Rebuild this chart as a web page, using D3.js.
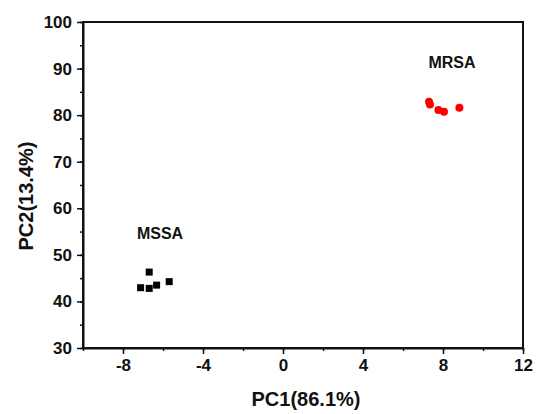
<!DOCTYPE html>
<html>
<head>
<meta charset="utf-8">
<script src="https://cdn.jsdelivr.net/npm/d3@7"></script>
<style>
  body { margin: 0; background: #fff; }
  text { font-family: "Liberation Sans", Arial, sans-serif; font-weight: bold; fill: #111; }
</style>
</head>
<body>
<div id="chart"></div>
<script>
// PCA scores
const mssaX = [-6.69, -7.12, -6.69, -6.32, -5.69];
const mssaY = [46.3, 42.95, 42.8, 43.5, 44.25];
const mrsaX = [7.3, 7.35, 7.77, 8.05, 8.82];
const mrsaY = [82.9, 82.3, 81.1, 80.75, 81.6];
const xTicks = [-8, -4, 0, 4, 8, 12];
const yTicks = [30, 40, 50, 60, 70, 80, 90, 100];
const groupLabels = ["MSSA", "MRSA"];

const width = 537, height = 414;
const margin = { top: 22, right: 14, bottom: 66, left: 83 };

const svg = d3.select("#chart").append("svg")
  .attr("width", width)
  .attr("height", height);

const x = d3.scaleLinear().domain([-10, 12]).range([margin.left, width - margin.right]);
const y = d3.scaleLinear().domain([30, 100]).range([height - margin.bottom, margin.top]);
const fmt = d => String(d); // plain hyphen minus like the original

// minor ticks first
svg.append("g")
  .attr("transform", `translate(0,${y(30)})`)
  .call(d3.axisBottom(x).tickValues(d3.range(-10, 12.1, 2)).tickSize(3).tickFormat(""))
  .call(g => g.select(".domain").remove());
svg.append("g")
  .attr("transform", `translate(${x(-10)},0)`)
  .call(d3.axisLeft(y).tickValues(d3.range(30, 100.1, 5)).tickSize(3).tickFormat(""))
  .call(g => g.select(".domain").remove());

const xAxis = svg.append("g")
  .attr("transform", `translate(0,${y(30)})`)
  .call(d3.axisBottom(x).tickValues(xTicks).tickFormat(fmt).tickSize(6).tickPadding(5).tickSizeOuter(0));
const yAxis = svg.append("g")
  .attr("transform", `translate(${x(-10)},0)`)
  .call(d3.axisLeft(y).tickValues(yTicks).tickFormat(fmt).tickSize(6).tickPadding(5).tickSizeOuter(0));

[xAxis, yAxis].forEach(a => {
  a.selectAll("text").style("font-size", "17px").style("font-family", "Liberation Sans, Arial, sans-serif").style("font-weight", "bold").attr("fill", "#111");
  a.select(".domain").attr("stroke", "#111").attr("stroke-width", 2);
});
svg.selectAll("g line").attr("stroke", "#111").attr("stroke-width", 1.5);

// frame
svg.append("rect")
  .attr("x", x(-10)).attr("y", y(100))
  .attr("width", x(12) - x(-10)).attr("height", y(30) - y(100))
  .attr("fill", "none").attr("stroke", "#111").attr("stroke-width", 2);

// points
const mssa = mssaX.map((v, i) => ({ x: v, y: mssaY[i] }));
const mrsa = mrsaX.map((v, i) => ({ x: v, y: mrsaY[i] }));

svg.selectAll(".sq").data(mssa).enter().append("rect")
  .attr("class", "sq")
  .attr("x", d => x(d.x) - 3.5).attr("y", d => y(d.y) - 3.5)
  .attr("width", 7).attr("height", 7)
  .attr("fill", "#000");

svg.selectAll(".dot").data(mrsa).enter().append("circle")
  .attr("class", "dot")
  .attr("cx", d => x(d.x)).attr("cy", d => y(d.y))
  .attr("r", 4)
  .attr("fill", "#ff0000");

// group labels
svg.append("text").attr("x", x(-6.15)).attr("y", y(53.4))
  .attr("text-anchor", "middle").style("font-size", "16px").text(groupLabels[0]);
svg.append("text").attr("x", x(8.45)).attr("y", y(90.1))
  .attr("text-anchor", "middle").style("font-size", "16px").text(groupLabels[1]);

// axis titles
svg.append("text")
  .attr("x", 306).attr("y", 406)
  .attr("text-anchor", "middle").style("font-size", "20px")
  .text("PC1(86.1%)");
svg.append("text")
  .attr("transform", `translate(33,196) rotate(-90)`)
  .attr("text-anchor", "middle").style("font-size", "20px")
  .text("PC2(13.4%)");
</script>
</body>
</html>
